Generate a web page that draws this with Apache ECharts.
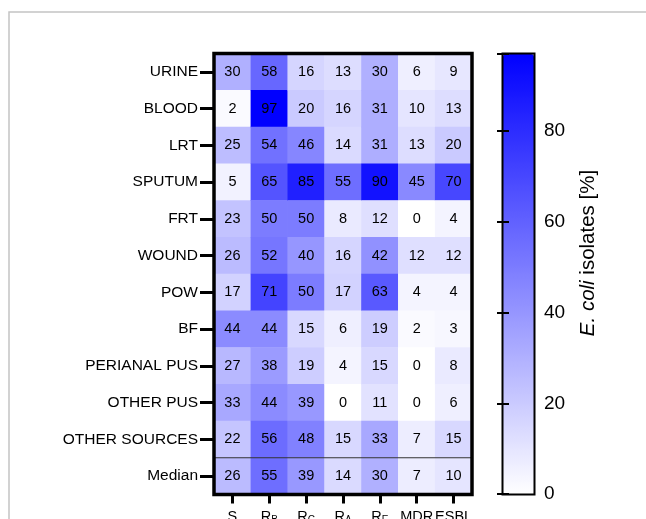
<!DOCTYPE html>
<html>
<head>
<meta charset="utf-8">
<script src="https://cdn.jsdelivr.net/npm/echarts@6/dist/echarts.min.js"></script>
<style>
  html, body { margin: 0; padding: 0; background: #fff; }
  #chart { width: 646px; height: 519px; }
</style>
</head>
<body>
<div id="chart"></div>
<script>
// Specimen sources (rows, top to bottom)
const sources = ['URINE', 'BLOOD', 'LRT', 'SPUTUM', 'FRT', 'WOUND', 'POW', 'BF',
  'PERIANAL PUS', 'OTHER PUS', 'OTHER SOURCES', 'Median'];
// Resistance categories (columns)
const columns = ['S', 'RB', 'RC', 'RA', 'RE', 'MDR', 'ESBL'];

// Percentage of E. coli isolates per column, one value per source
const pctS    = [30, 2, 25, 5, 23, 26, 17, 44, 27, 33, 22, 26];
const pctRB   = [58, 97, 54, 65, 50, 52, 71, 44, 38, 44, 56, 55];
const pctRC   = [16, 20, 46, 85, 50, 40, 50, 15, 19, 39, 48, 39];
const pctRA   = [13, 16, 14, 55, 8, 16, 17, 6, 4, 0, 15, 14];
const pctRE   = [30, 31, 31, 90, 12, 42, 63, 19, 15, 11, 33, 30];
const pctMDR  = [6, 10, 13, 45, 0, 12, 4, 2, 0, 0, 7, 7];
const pctESBL = [9, 13, 20, 70, 4, 12, 4, 3, 8, 6, 15, 10];

// Colour scale range and tick labels
const scaleMin = 0;
const scaleMax = 97;
const scaleTicks = [0, 20, 40, 60, 80];

const columnValues = [pctS, pctRB, pctRC, pctRA, pctRE, pctMDR, pctESBL];
const cells = [];
columnValues.forEach((vals, ci) => {
  vals.forEach((v, ri) => cells.push([ci, ri, v]));
});

// Column labels with subscripts
const columnLabels = {
  S: '{m|S}', RB: '{m|R}{s|B}', RC: '{m|R}{s|C}', RA: '{m|R}{s|A}',
  RE: '{m|R}{s|E}', MDR: '{m|MDR}', ESBL: '{m|ESBL}'
};

const FONT = '"Liberation Sans", Arial, Helvetica, sans-serif';
const G = { left: 214, top: 53.5, width: 258, height: 441 };       // heatmap area
const CB = { left: 503, top: 54, width: 31, height: 440 };         // colour bar area

const chart = echarts.init(document.getElementById('chart'), null, { renderer: 'canvas' });

chart.setOption({
  backgroundColor: '#ffffff',
  animation: false,
  textStyle: { fontFamily: FONT },
  grid: [
    { left: G.left, top: G.top, width: G.width, height: G.height, containLabel: false, outerBoundsMode: 'none' },
    { left: CB.left, top: CB.top, width: CB.width, height: CB.height, containLabel: false, outerBoundsMode: 'none' }
  ],
  xAxis: [
    {
      type: 'category', gridIndex: 0, data: columns, position: 'bottom',
      axisLine: { show: false },
      axisTick: { show: true, alignWithLabel: true, length: 9, lineStyle: { color: '#000', width: 3 } },
      axisLabel: {
        interval: 0, margin: 13, color: '#000', fontFamily: FONT,
        formatter: v => columnLabels[v],
        rich: {
          m: { fontSize: 14.5, color: '#000', fontFamily: FONT, lineHeight: 18 },
          s: { fontSize: 10, color: '#000', fontFamily: FONT, lineHeight: 12, verticalAlign: 'bottom' }
        }
      },
      splitLine: { show: false }
    },
    { type: 'value', gridIndex: 1, show: false, min: 0, max: 1 }
  ],
  yAxis: [
    {
      type: 'category', gridIndex: 0, data: sources, inverse: true, z: 5,
      axisLine: { show: false },
      axisTick: { show: true, alignWithLabel: true, length: 14, lineStyle: { color: '#000', width: 3 } },
      axisLabel: { interval: 0, margin: 16, fontSize: 15.5, color: '#000', fontFamily: FONT },
      splitLine: { show: false }
    },
    {
      type: 'value', gridIndex: 1, position: 'right', min: scaleMin, max: scaleMax, interval: 20, z: 5,
      axisLine: { show: false },
      axisTick: { show: true, inside: true, length: 6, lineStyle: { color: '#000', width: 2 } },
      axisLabel: {
        margin: 10, fontSize: 19, color: '#000', fontFamily: FONT,
        formatter: v => (scaleTicks.includes(v) ? String(v) : '')
      },
      splitLine: { show: false }
    },
    {
      type: 'value', gridIndex: 1, position: 'left', min: scaleMin, max: scaleMax, interval: 20, z: 5,
      axisLine: { show: false },
      axisTick: { show: true, inside: true, length: 6, lineStyle: { color: '#000', width: 2 } },
      axisLabel: { show: false },
      splitLine: { show: false }
    }
  ],
  visualMap: {
    type: 'continuous',
    seriesIndex: 0,
    min: scaleMin, max: scaleMax,
    orient: 'vertical',
    left: CB.left, top: CB.top,
    itemWidth: CB.width, itemHeight: CB.height,
    padding: 0,
    calculable: false,
    hoverLink: false,
    text: null,
    inRange: { color: ['#ffffff', '#0000ff'] }
  },
  series: [
    {
      type: 'heatmap',
      xAxisIndex: 0, yAxisIndex: 0,
      data: cells,
      label: { show: true, color: '#000', fontSize: 14.5, fontFamily: FONT },
      itemStyle: { borderWidth: 0 },
      emphasis: { disabled: true }
    }
  ],
  graphic: [
    // figure frame
    { type: 'rect', z: 0, shape: { x: 9, y: 12, width: 700, height: 600 },
      style: { fill: 'none', stroke: '#c4c4c4', lineWidth: 1.5 } },
    // heatmap box
    { type: 'rect', z: 100, shape: { x: G.left, y: G.top, width: G.width, height: G.height },
      style: { fill: 'none', stroke: '#000', lineWidth: 3.5 } },
    // colour bar box
    { type: 'rect', z: 100, shape: { x: CB.left - 0.5, y: CB.top - 0.5, width: CB.width + 1, height: CB.height + 1 },
      style: { fill: 'none', stroke: '#000', lineWidth: 2 } },
    // colour bar title
    { type: 'text', z: 100, x: 588, y: 253, rotation: Math.PI / 2,
      style: {
        text: '{i|E. coli} isolates [%]',
        font: '20.5px ' + FONT, fill: '#000',
        align: 'center', verticalAlign: 'middle',
        rich: { i: { fontStyle: 'italic', fontSize: 20.5, fontFamily: FONT, fill: '#000' } }
      } }
  ]
});

// Thin rule separating the per-source rows from the median row
const lastSource = sources[sources.length - 2];
const medianRow = sources[sources.length - 1];
const yA = chart.convertToPixel({ gridIndex: 0 }, [columns[0], lastSource])[1];
const yB = chart.convertToPixel({ gridIndex: 0 }, [columns[0], medianRow])[1];
const ySep = (yA + yB) / 2;
chart.setOption({
  graphic: [
    { id: 'medianRule', type: 'line', z: 90,
      shape: { x1: G.left, y1: ySep, x2: G.left + G.width, y2: ySep },
      style: { stroke: '#333', lineWidth: 1 } }
  ]
});
</script>
</body>
</html>
